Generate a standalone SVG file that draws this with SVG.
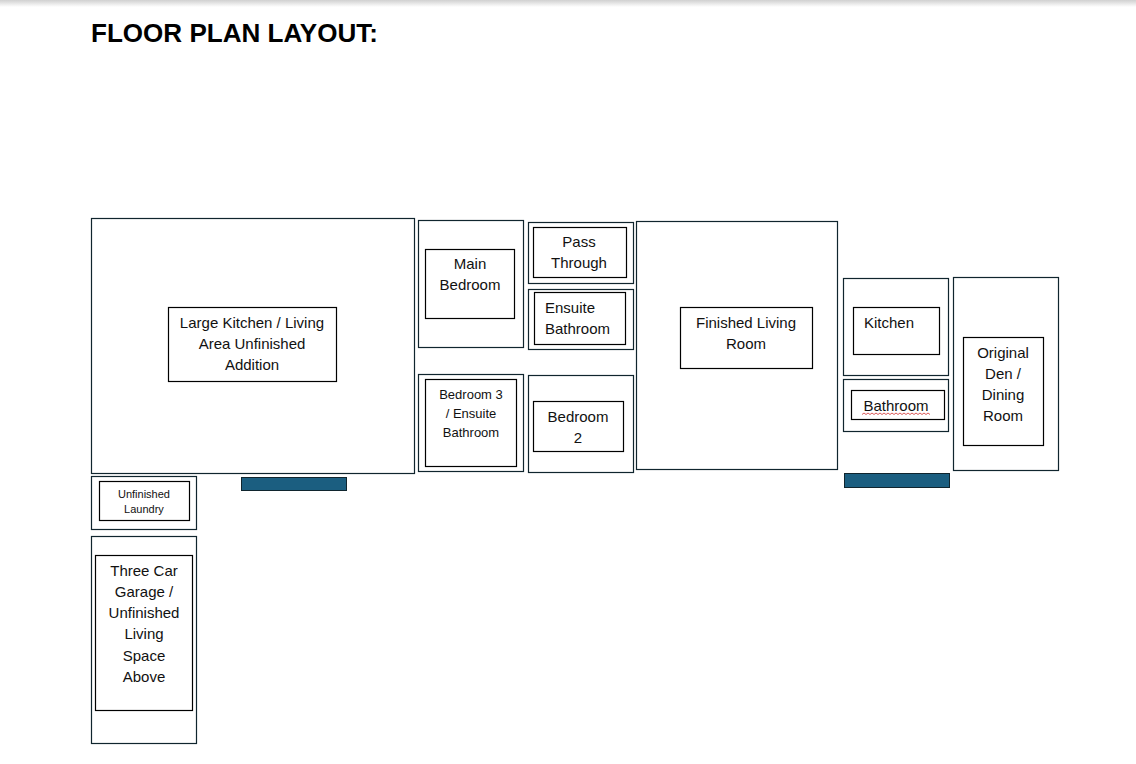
<svg xmlns="http://www.w3.org/2000/svg" width="1136" height="764" viewBox="0 0 1136 764">
<defs>
<linearGradient id="topShade" x1="0" y1="0" x2="0" y2="1">
<stop offset="0" stop-color="#d0d0d0"/>
<stop offset="1" stop-color="#ffffff"/>
</linearGradient>
</defs>
<style>
.outer{fill:#fff;stroke:#10252e;stroke-width:1.2}
.inner{fill:#fff;stroke:#000;stroke-width:1.2}
.t{font-family:"Liberation Sans",Arial,sans-serif;font-size:15px;fill:#111;text-anchor:middle}
.s{font-size:13px}
.xs{font-size:11px}
.bar{fill:#1b5e80;stroke:#10252e;stroke-width:1}
.title{font-family:"Liberation Sans",Arial,sans-serif;font-size:26px;font-weight:bold;fill:#000}
</style>
<rect x="0" y="0" width="1136" height="764" fill="#fff"/>
<rect x="0" y="0" width="1136" height="7" fill="url(#topShade)"/>
<text class="title" x="91" y="42" textLength="287" lengthAdjust="spacingAndGlyphs">FLOOR PLAN LAYOUT:</text>

<g id="large-kitchen">
<rect class="outer" x="91.5" y="218.5" width="323" height="255"/>
<rect class="inner" x="168.5" y="307.5" width="168" height="74"/>
<text class="t" x="252" y="328">Large Kitchen / Living</text>
<text class="t" x="252" y="349">Area Unfinished</text>
<text class="t" x="252" y="370">Addition</text>
</g>

<g id="main-bedroom">
<rect class="outer" x="418.5" y="220.5" width="105" height="127"/>
<rect class="inner" x="425.5" y="249.5" width="89" height="69"/>
<text class="t" x="470" y="269">Main</text>
<text class="t" x="470" y="290">Bedroom</text>
</g>

<g id="bedroom-3">
<rect class="outer" x="418.5" y="374.5" width="105" height="97"/>
<rect class="inner" x="425.5" y="379.5" width="91" height="87"/>
<text class="t s" x="471" y="399">Bedroom 3</text>
<text class="t s" x="471" y="418">/ Ensuite</text>
<text class="t s" x="471" y="437">Bathroom</text>
</g>

<g id="pass-through">
<rect class="outer" x="528.5" y="222.5" width="105" height="61"/>
<rect class="inner" x="533.5" y="227.5" width="93" height="50"/>
<text class="t" x="579" y="247">Pass</text>
<text class="t" x="579" y="268">Through</text>
</g>

<g id="ensuite-bathroom">
<rect class="outer" x="528.5" y="289.5" width="105" height="60"/>
<rect class="inner" x="534.5" y="292.5" width="91" height="52"/>
<text class="t" x="545" y="313" text-anchor="start" style="text-anchor:start">Ensuite</text>
<text class="t" x="545" y="334" style="text-anchor:start">Bathroom</text>
</g>

<g id="bedroom-2">
<rect class="outer" x="528.5" y="375.5" width="105" height="97"/>
<rect class="inner" x="533.5" y="401.5" width="90" height="50"/>
<text class="t" x="578" y="422">Bedroom</text>
<text class="t" x="578" y="443">2</text>
</g>

<g id="finished-living-room">
<rect class="outer" x="636.5" y="221.5" width="201" height="248"/>
<rect class="inner" x="680.5" y="307.5" width="132" height="61"/>
<text class="t" x="746" y="328">Finished Living</text>
<text class="t" x="746" y="349">Room</text>
</g>

<g id="kitchen">
<rect class="outer" x="843.5" y="278.5" width="105" height="97"/>
<rect class="inner" x="853.5" y="307.5" width="86" height="47"/>
<text class="t" x="864" y="328" style="text-anchor:start">Kitchen</text>
</g>

<g id="bathroom">
<rect class="outer" x="843.5" y="379.5" width="105" height="52"/>
<rect class="inner" x="851.5" y="390.5" width="93" height="29"/>
<text class="t" x="896" y="411">Bathroom</text>
<path d="M862 414.5 l2 -1.5 l2 1.5 l2 -1.5 l2 1.5 l2 -1.5 l2 1.5 l2 -1.5 l2 1.5 l2 -1.5 l2 1.5 l2 -1.5 l2 1.5 l2 -1.5 l2 1.5 l2 -1.5 l2 1.5 l2 -1.5 l2 1.5 l2 -1.5 l2 1.5 l2 -1.5 l2 1.5 l2 -1.5 l2 1.5 l2 -1.5 l2 1.5 l2 -1.5 l2 1.5 l2 -1.5 l2 1.5 l2 -1.5 l2 1.5 l2 -1.5 l2 1.5" fill="none" stroke="#d03030" stroke-width="0.8"/>
</g>

<g id="original-den">
<rect class="outer" x="953.5" y="277.5" width="105" height="193"/>
<rect class="inner" x="963.5" y="337.5" width="80" height="108"/>
<text class="t" x="1003" y="358">Original</text>
<text class="t" x="1003" y="379">Den /</text>
<text class="t" x="1003" y="400">Dining</text>
<text class="t" x="1003" y="421">Room</text>
</g>

<g id="unfinished-laundry">
<rect class="outer" x="91.5" y="476.5" width="105" height="53"/>
<rect class="inner" x="99.5" y="481.5" width="90" height="39"/>
<text class="t xs" x="144" y="498">Unfinished</text>
<text class="t xs" x="144" y="513">Laundry</text>
</g>

<g id="three-car-garage">
<rect class="outer" x="91.5" y="536.5" width="105" height="207"/>
<rect class="inner" x="95.5" y="555.5" width="97" height="155"/>
<text class="t" x="144" y="576">Three Car</text>
<text class="t" x="144" y="597">Garage /</text>
<text class="t" x="144" y="618">Unfinished</text>
<text class="t" x="144" y="639">Living</text>
<text class="t" x="144" y="661">Space</text>
<text class="t" x="144" y="682">Above</text>
</g>

<g id="connectors">
<rect class="bar" x="241.5" y="477.5" width="105" height="13"/>
<rect class="bar" x="844.5" y="473.5" width="105" height="14"/>
</g>
</svg>
